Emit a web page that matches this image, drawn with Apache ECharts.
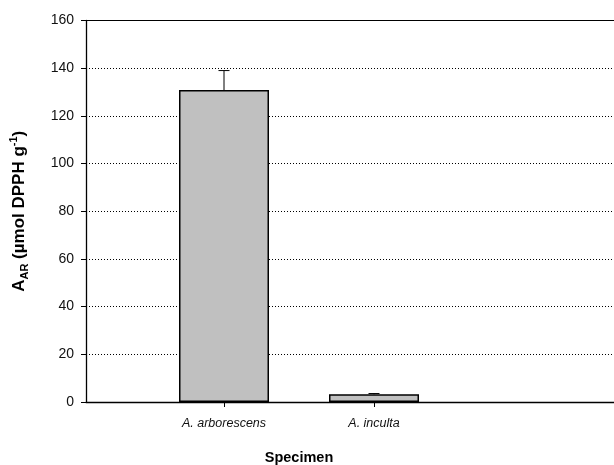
<!DOCTYPE html>
<html>
<head>
<meta charset="utf-8">
<script src="https://cdn.jsdelivr.net/npm/echarts@6/dist/echarts.min.js"></script>
<style>html,body{margin:0;padding:0;background:#fff}#c{width:614px;height:465px}</style>
</head>
<body>
<div id="c"></div>
<script>
var categories = ['A. arborescens', 'A. inculta'];
var values = [130.8, 3.2];
var errors = [8.2, 0.35];
var yTicks = [0, 20, 40, 60, 80, 100, 120, 140, 160];

var barData = values.map(function (v, i) { return [i, v]; });
var errData = values.map(function (v, i) { return [i, v, errors[i]]; });

var chart = echarts.init(document.getElementById('c'));
var font = 'Liberation Sans, Arial, sans-serif';
chart.setOption({
  animation: false,
  grid: { left: 86, right: 0, top: 20.5, bottom: 63, outerBoundsMode: 'none', containLabel: false },
  xAxis: [{
    type: 'value', min: -0.92, max: 2.6,
    axisLine: { show: true, onZero: false, lineStyle: { color: '#000', width: 1.3 } },
    axisTick: { show: true, length: 5, customValues: [0, 1], lineStyle: { color: '#000' } },
    axisLabel: { customValues: [0, 1], margin: 15, fontFamily: font, fontSize: 12.5, fontStyle: 'italic', color: '#111',
      formatter: function (v) { return categories[Math.round(v)] || ''; } },
    splitLine: { show: false }
  }, {
    type: 'value', min: -0.92, max: 2.6, position: 'top',
    axisLine: { show: true, onZero: false, lineStyle: { color: '#000', width: 1 } },
    axisTick: { show: false }, axisLabel: { show: false }, splitLine: { show: false }
  }],
  yAxis: {
    type: 'value', min: yTicks[0], max: yTicks[yTicks.length - 1], interval: 20,
    axisLine: { show: true, onZero: false, lineStyle: { color: '#000', width: 1.3 } },
    axisTick: { show: true, length: 5, lineStyle: { color: '#000' } },
    axisLabel: { margin: 12, fontFamily: font, fontSize: 14, color: '#111' },
    splitLine: { show: true, lineStyle: { color: '#000', type: [1, 2], width: 1 } },
    name: '{m|A}{s|AR}{m| (µmol DPPH g}{p|-1}{m|)}',
    nameLocation: 'middle', nameGap: 56, nameRotate: 90,
    nameTextStyle: {
      rich: {
        m: { fontFamily: font, fontSize: 17, fontWeight: 'bold', color: '#000', lineHeight: 22, verticalAlign: 'middle' },
        s: { fontFamily: font, fontSize: 11, fontWeight: 'bold', color: '#000', lineHeight: 22, verticalAlign: 'bottom', padding: [7, 0, 0, 0] },
        p: { fontFamily: font, fontSize: 11, fontWeight: 'bold', color: '#000', lineHeight: 22, verticalAlign: 'top', padding: [0, 0, 7, 0] }
      }
    }
  },
  series: [{
    type: 'bar', data: barData, barWidth: 90,
    itemStyle: { color: '#c0c0c0', borderColor: '#000', borderWidth: 1.5 }
  }, {
    type: 'custom', data: errData, z: 1,
    renderItem: function (params, api) {
      var x = api.value(0), v = api.value(1), e = api.value(2);
      var top = api.coord([x, v]);
      var hi = api.coord([x, v + e]);
      return {
        type: 'group',
        children: [
          { type: 'line', shape: { x1: top[0], y1: top[1], x2: hi[0], y2: hi[1] }, style: { stroke: '#000', lineWidth: 1 } },
          { type: 'line', shape: { x1: hi[0] - 5.5, y1: hi[1], x2: hi[0] + 5.5, y2: hi[1] }, style: { stroke: '#000', lineWidth: 1 } }
        ]
      };
    }
  }],
  graphic: [{
    type: 'text', x: 299, y: 458,
    style: { text: 'Specimen', fontFamily: font, fontSize: 14.5, fontWeight: 'bold', fill: '#000', textAlign: 'center', textVerticalAlign: 'middle' }
  }]
});
</script>
</body>
</html>
